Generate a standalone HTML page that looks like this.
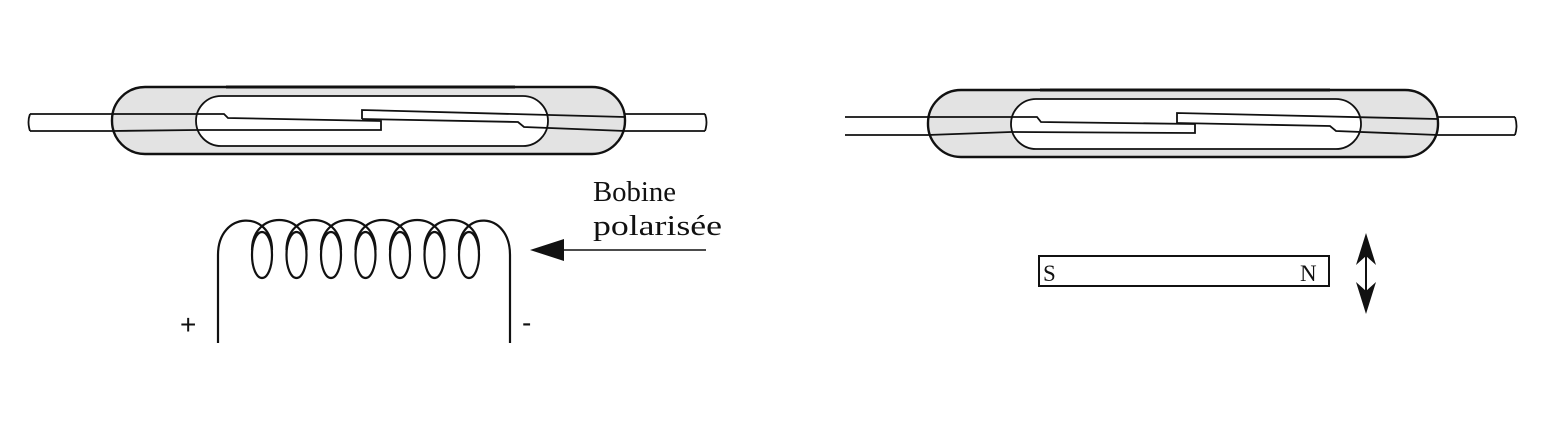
<!DOCTYPE html>
<html><head><meta charset="utf-8"><style>
html,body{margin:0;padding:0;background:#fff;}
svg{display:block;}
text{font-family:"Liberation Serif",serif;fill:#111;}
</style></head><body>
<svg width="1568" height="437" viewBox="0 0 1568 437" xmlns="http://www.w3.org/2000/svg">
<g fill="none" stroke="#111" stroke-width="1.8">
<!-- LEFT SWITCH -->
<line x1="30" y1="114" x2="112" y2="114"/><line x1="30" y1="131" x2="112" y2="131"/>
<line x1="625" y1="114" x2="705" y2="114"/><line x1="625" y1="131" x2="705" y2="131"/>
<rect x="112" y="87" width="513" height="67" rx="33" fill="#e3e3e3" stroke-width="2.4"/>
<line x1="226" y1="87" x2="515" y2="87" stroke-width="3"/>
<rect x="196" y="96" width="352" height="50" rx="25" fill="#fff"/>
<path d="M112 114 L224 114 L228 118 L381 121 L381 130 L196 130 L112 131"/>
<path d="M362 119 L362 110 L625 117"/>
<path d="M362 119 L518 122 L524 127 L625 131"/>
<path d="M30 114 q-3 8 0 17 M705 114 q3 8 0 17"/>
<!-- RIGHT SWITCH -->
<line x1="845" y1="117" x2="928" y2="117"/><line x1="845" y1="135" x2="928" y2="135"/>
<line x1="1438" y1="117" x2="1515" y2="117"/><line x1="1438" y1="135" x2="1515" y2="135"/>
<rect x="928" y="90" width="510" height="67" rx="33" fill="#e3e3e3" stroke-width="2.4"/>
<line x1="1040" y1="90" x2="1330" y2="90" stroke-width="3"/>
<rect x="1011" y="99" width="350" height="50" rx="25" fill="#fff"/>
<path d="M928 117 L1037 117 L1041 122 L1195 124 L1195 133 L1011 132 L928 135"/>
<path d="M1177 123 L1177 113 L1438 119"/>
<path d="M1177 123 L1330 126 L1336 131 L1438 135"/>
<path d="M1515 117 q3 9 0 18"/>
<!-- COIL -->
<g stroke-width="2.2">
<path d="M218 343 L218 255 C218 210 272 210 272 250"/>
<path d="M252 250 C252 210 306.5 210 306.5 250"/>
<path d="M286.5 250 C286.5 210 341 210 341 250"/>
<path d="M321 250 C321 210 375.5 210 375.5 250"/>
<path d="M355.5 250 C355.5 210 410 210 410 250"/>
<path d="M390 250 C390 210 444.5 210 444.5 250"/>
<path d="M424.5 250 C424.5 210 479 210 479 250"/>
<path d="M459 250 C459 210 510 210 510 255 L510 343"/>
<ellipse cx="262" cy="255" rx="10" ry="23"/>
<ellipse cx="296.5" cy="255" rx="10" ry="23"/>
<ellipse cx="331" cy="255" rx="10" ry="23"/>
<ellipse cx="365.5" cy="255" rx="10" ry="23"/>
<ellipse cx="400" cy="255" rx="10" ry="23"/>
<ellipse cx="434.5" cy="255" rx="10" ry="23"/>
<ellipse cx="469" cy="255" rx="10" ry="23"/>
</g>
<!-- arrow -->
<line x1="706" y1="250" x2="555" y2="250" stroke-width="1.4"/>
<!-- magnet -->
<rect x="1039" y="256" width="290" height="30" stroke-width="2"/>
<line x1="1366" y1="245" x2="1366" y2="302" stroke-width="2"/>
</g>
<polygon points="530,250 564,239 564,261" fill="#111"/>
<polygon points="1366,233 1356,265 1366,256 1376,265" fill="#111"/>
<polygon points="1366,314 1356,282 1366,291 1376,282" fill="#111"/>
<text x="180" y="334" font-size="28" style="font-family:'Liberation Sans',sans-serif">+</text>
<text x="522" y="332" font-size="28" style="font-family:'Liberation Sans',sans-serif">-</text>
<text x="593" y="201" font-size="28" textLength="83" lengthAdjust="spacingAndGlyphs">Bobine</text>
<text x="593" y="235" font-size="28" textLength="129" lengthAdjust="spacingAndGlyphs">polarisée</text>
<text x="1043" y="281" font-size="23">S</text>
<text x="1300" y="281" font-size="23">N</text>
</svg>
</body></html>
